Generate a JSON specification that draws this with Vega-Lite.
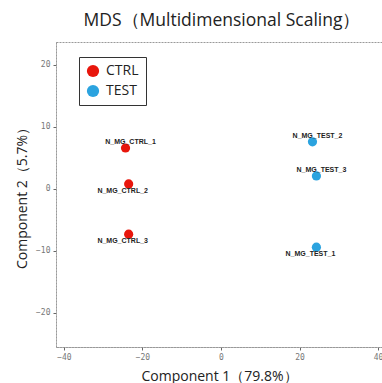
{
  "$schema": "https://vega.github.io/schema/vega-lite/v6.json",
  "autosize": "none",
  "width": 326,
  "height": 305,
  "padding": {"left": 56, "top": 42, "right": 0, "bottom": 36},
  "background": "white",
  "title": {
    "text": "MDS（Multidimensional Scaling）",
    "font": "Open Sans",
    "fontSize": 17.5,
    "fontWeight": "normal",
    "color": "#222222",
    "anchor": "middle",
    "dx": 3,
    "offset": 13
  },
  "config": {
    "view": {"stroke": "#999999", "strokeDash": [2, 1], "strokeWidth": 1},
    "axis": {
      "grid": false,
      "domainColor": "#999999",
      "domainDash": [2, 1],
      "tickColor": "#666666",
      "tickSize": 3,
      "labelFont": "DejaVu Sans Mono",
      "labelFontSize": 8,
      "labelColor": "#777777",
      "titleFont": "Open Sans",
      "titleFontSize": 14,
      "titleFontWeight": "normal",
      "titleColor": "#222222"
    }
  },
  "data": {
    "values": [
      {"sample": "N_MG_CTRL_1", "group": "CTRL", "c1": -24.3, "c2": 6.6},
      {"sample": "N_MG_CTRL_2", "group": "CTRL", "c1": -23.5, "c2": 0.8},
      {"sample": "N_MG_CTRL_3", "group": "CTRL", "c1": -23.5, "c2": -7.3},
      {"sample": "N_MG_TEST_1", "group": "TEST", "c1": 24.3, "c2": -9.4},
      {"sample": "N_MG_TEST_2", "group": "TEST", "c1": 23.3, "c2": 7.6},
      {"sample": "N_MG_TEST_3", "group": "TEST", "c1": 24.3, "c2": 2.1}
    ]
  },
  "encoding": {
    "x": {
      "field": "c1", "type": "quantitative",
      "scale": {"domain": [-42, 41], "nice": false, "zero": false},
      "axis": {"values": [-40, -20, 0, 20, 40], "title": "Component 1（79.8%）", "titlePadding": 8, "labelPadding": 3}
    },
    "y": {
      "field": "c2", "type": "quantitative",
      "scale": {"domain": [-25.5, 23.7], "nice": false, "zero": false},
      "axis": {"values": [-20, -10, 0, 10, 20], "title": "Component 2（5.7%）", "titlePadding": 6, "labelPadding": 3}
    }
  },
  "layer": [
    {
      "mark": {"type": "point", "filled": true, "size": 85, "opacity": 1, "strokeWidth": 1},
      "encoding": {
        "color": {
          "field": "group", "type": "nominal",
          "scale": {"domain": ["CTRL", "TEST"], "range": ["#e8160c", "#2ba3df"]},
          "legend": {
            "title": null,
            "orient": "none",
            "legendX": 23,
            "legendY": 15,
            "padding": 7,
            "strokeColor": "#333333",
            "symbolType": "circle",
            "symbolSize": 150,
            "symbolStrokeWidth": 0,
            "labelFont": "Open Sans",
            "labelFontSize": 14,
            "labelColor": "#222222",
            "rowPadding": 6,
            "labelOffset": 6,
            "encode": {"legend": {"update": {"strokeDash": {"value": [2, 1]}}}}
          }
        }
      }
    },
    {
      "transform": [{"filter": {"field": "sample", "oneOf": ["N_MG_CTRL_1", "N_MG_TEST_2", "N_MG_TEST_3"]}}],
      "mark": {"type": "text", "dy": -6, "dx": 5, "fontSize": 7, "font": "Liberation Sans", "fontWeight": "bold", "color": "#222222"},
      "encoding": {"text": {"field": "sample"}}
    },
    {
      "transform": [{"filter": {"field": "sample", "oneOf": ["N_MG_CTRL_2", "N_MG_CTRL_3", "N_MG_TEST_1"]}}],
      "mark": {"type": "text", "dy": 7, "dx": -6, "fontSize": 7, "font": "Liberation Sans", "fontWeight": "bold", "color": "#222222"},
      "encoding": {"text": {"field": "sample"}}
    }
  ]
}
